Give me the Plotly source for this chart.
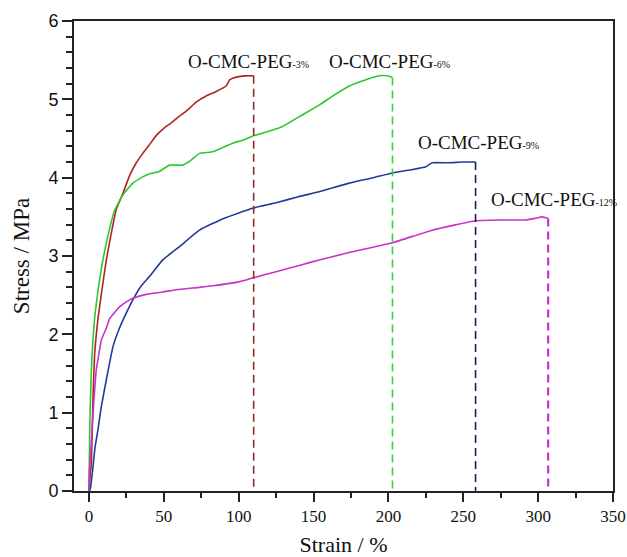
import plotly.graph_objects as go

# ---- data ----
red_x = [0, 0.8, 1.6, 2.7, 3.8, 4.9, 6, 8.3, 11.6, 14.9, 18.3, 22.7, 27, 31.6, 36, 40, 45, 50, 55, 60, 65, 72, 78, 85, 91.6, 94, 96, 100, 105, 110]
red_y = [0, 0.2, 0.35, 1.2, 1.75, 2.0, 2.2, 2.52, 2.95, 3.29, 3.6, 3.8, 4.02, 4.19, 4.31, 4.41, 4.54, 4.63, 4.70, 4.78, 4.85, 4.97, 5.04, 5.10, 5.17, 5.25, 5.27, 5.29, 5.30, 5.30]

green_x = [0, 0.5, 1.5, 2.7, 4, 6, 9.3, 13.8, 17.1, 22.7, 29.3, 35, 40.5, 47, 53.8, 62.7, 68, 73.8, 82.7, 90, 96, 103, 109, 118, 129, 140.5, 154, 162.7, 173.8, 185, 193.8, 199.4, 202.7]
green_y = [0, 0.8, 1.5, 1.95, 2.25, 2.55, 2.95, 3.35, 3.58, 3.78, 3.93, 4.0, 4.05, 4.08, 4.16, 4.16, 4.22, 4.31, 4.33, 4.39, 4.44, 4.48, 4.53, 4.58, 4.65, 4.78, 4.93, 5.04, 5.17, 5.25, 5.30, 5.30, 5.28]

blue_x = [0.5, 1.1, 2.7, 4, 6, 8, 11.6, 16, 20.4, 24.9, 29.3, 35, 40.5, 49.3, 60.5, 73.8, 90, 109.3, 125, 140.5, 153.8, 173.8, 190, 202.7, 215, 225, 229.3, 240, 250, 258.2]
blue_y = [0, 0.05, 0.31, 0.55, 0.78, 1.05, 1.42, 1.84, 2.08, 2.27, 2.44, 2.62, 2.74, 2.95, 3.12, 3.33, 3.48, 3.61, 3.68, 3.76, 3.82, 3.93, 4.0, 4.06, 4.10, 4.14, 4.19, 4.19, 4.20, 4.20]

mag_x = [0, 0.3, 1.5, 2.7, 4.9, 6, 8.3, 11.6, 13.8, 20.4, 27.1, 29.3, 38.2, 49.3, 58.2, 73.8, 82.7, 100, 109.3, 125, 140.5, 153.8, 175, 202.7, 229.3, 258.2, 275, 291.6, 298, 302.7, 306.7]
mag_y = [0, 0.26, 0.6, 0.99, 1.55, 1.68, 1.93, 2.08, 2.2, 2.35, 2.44, 2.46, 2.51, 2.54, 2.57, 2.60, 2.62, 2.67, 2.72, 2.80, 2.88, 2.95, 3.05, 3.17, 3.33, 3.45, 3.46, 3.46, 3.48, 3.50, 3.48]

labels = ["-3%", "-6%", "-9%", "-12%"]
label_x = [64.5, 159, 218.5, 267]
label_y = [5.48, 5.48, 4.45, 3.72]

x_ticks = [0, 50, 100, 150, 200, 250, 300, 350]
y_ticks = [0, 1, 2, 3, 4, 5, 6]

series = [
    (red_x, red_y, "#b02424", "#8e2b2b", 1.6),
    (green_x, green_y, "#2ec82e", "#33d633", 1.6),
    (blue_x, blue_y, "#24399a", "#1c1c5a", 1.6),
    (mag_x, mag_y, "#c832c8", "#c832c8", 2.2),
]

fig = go.Figure()
for xs, ys, col, dcol, dw in series:
    fig.add_trace(go.Scatter(x=xs, y=ys, mode="lines", line_shape="spline",
                             line=dict(color=col, width=1.6, smoothing=0.4), showlegend=False))
for xs, ys, col, dcol, dw in series:
    fig.add_trace(go.Scatter(x=[xs[-1], xs[-1]], y=[ys[-1], 0], mode="lines",
                             line=dict(color=dcol, width=dw, dash="8px,5px"),
                             showlegend=False))

for lab, lx, ly in zip(labels, label_x, label_y):
    fig.add_annotation(x=lx, y=ly, xref="x", yref="y", xanchor="left", yanchor="middle",
                       text="O-CMC-PEG<span style='font-size:10px'>" + lab + "</span>",
                       showarrow=False,
                       font=dict(family="Liberation Serif", size=19, color="#111"))

fig.update_layout(
    width=627, height=557,
    margin=dict(l=74, r=14, t=21, b=66),
    plot_bgcolor="white", paper_bgcolor="white",
    xaxis=dict(range=[-10, 350], tickvals=x_ticks, ticks="outside", ticklen=9, tickwidth=1.5,
               tickcolor="#222", showline=True, linecolor="#222", linewidth=1.6, mirror=True,
               showgrid=False, zeroline=False, automargin=False,
               minor=dict(dtick=25, tick0=0, ticks="outside", ticklen=5, tickwidth=1.5, tickcolor="#222"),
               tickfont=dict(family="Liberation Serif", size=17, color="#111"),
               title=dict(text="Strain / %", standoff=12,
                          font=dict(family="Liberation Serif", size=22, color="#111"))),
    yaxis=dict(range=[0, 6], tickvals=y_ticks, ticks="outside", ticklen=10, tickwidth=1.5,
               tickcolor="#222", showline=True, linecolor="#222", linewidth=1.6, mirror=True,
               showgrid=False, zeroline=False, automargin=False,
               minor=dict(dtick=0.2, tick0=0, ticks="outside", ticklen=6, tickwidth=1.5, tickcolor="#222"),
               tickfont=dict(family="Liberation Sans", size=18, color="#111"),
               title=dict(text="Stress / MPa", standoff=13,
                          font=dict(family="Liberation Serif", size=23, color="#111"))),
)

fig.write_html("out.html", config={"displayModeBar": False},
               post_script="document.body.style.margin='0px';document.body.style.padding='0px';document.body.style.overflow='hidden';")
